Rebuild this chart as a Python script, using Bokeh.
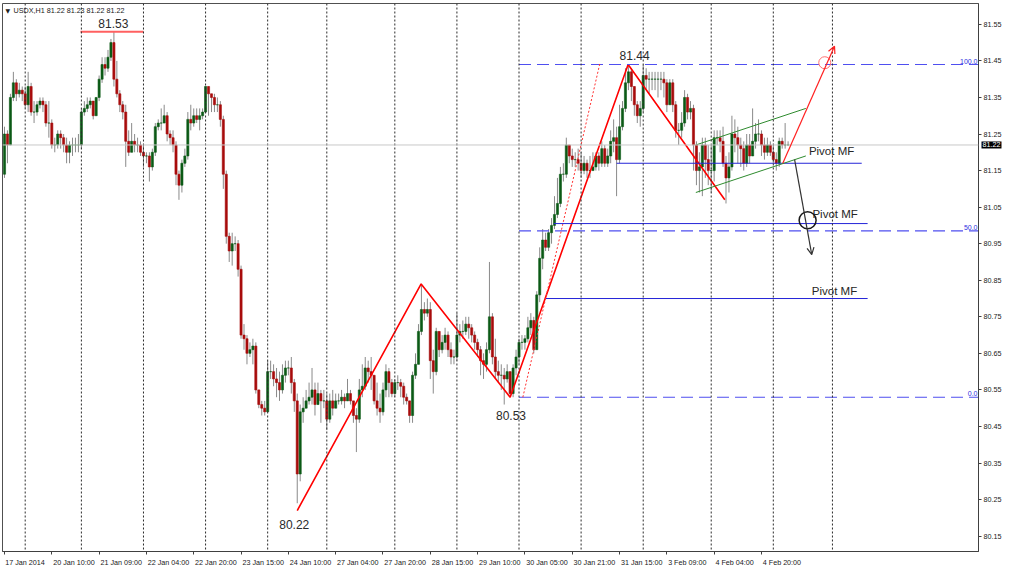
from bokeh.plotting import figure
from bokeh.models import (Range1d, LinearAxis, FixedTicker, Span, Label, Arrow,
                          OpenHead, PrintfTickFormatter)
from bokeh.core.properties import value
from bokeh.embed import file_html
from bokeh.resources import INLINE

# ---------------- data (USDX, H1) ----------------
first_open = 81.14
closes = [
    81.25, 81.22, 81.35, 81.39, 81.36, 81.37, 81.36, 81.33, 81.38, 81.31,
    81.31, 81.33, 81.34, 81.33, 81.28, 81.28, 81.22, 81.22, 81.25, 81.24,
    81.22, 81.20, 81.22, 81.22, 81.22, 81.22, 81.31, 81.32, 81.33, 81.34,
    81.30, 81.35, 81.40, 81.44, 81.43, 81.46, 81.50, 81.40, 81.36, 81.33,
    81.31, 81.23, 81.20, 81.23, 81.22, 81.22, 81.20, 81.19, 81.19, 81.16,
    81.20, 81.27, 81.28, 81.28, 81.30, 81.25, 81.24, 81.22, 81.14, 81.11,
    81.17, 81.19, 81.29, 81.28, 81.30, 81.29, 81.30, 81.31, 81.38, 81.36,
    81.35, 81.33, 81.33, 81.29, 81.14, 80.97, 80.93, 80.95, 80.95, 80.88,
    80.70, 80.69, 80.65, 80.66, 80.67, 80.55, 80.51, 80.50, 80.49, 80.60,
    80.60, 80.58, 80.57, 80.55, 80.59, 80.61, 80.61, 80.57, 80.52, 80.32,
    80.49, 80.50, 80.52, 80.53, 80.55, 80.51, 80.54, 80.52, 80.52, 80.47,
    80.52, 80.50, 80.52, 80.52, 80.53, 80.52, 80.54, 80.52, 80.48, 80.47,
    80.55, 80.56, 80.61, 80.60, 80.59, 80.52, 80.50, 80.49, 80.55, 80.60,
    80.57, 80.54, 80.57, 80.57, 80.56, 80.53, 80.52, 80.48, 80.59, 80.62,
    80.71, 80.77, 80.76, 80.77, 80.63, 80.60, 80.71, 80.66, 80.68, 80.70,
    80.66, 80.64, 80.64, 80.70, 80.71, 80.71, 80.73, 80.72, 80.70, 80.68,
    80.66, 80.63, 80.62, 80.66, 80.75, 80.64, 80.60, 80.59, 80.59, 80.58,
    80.60, 80.54, 80.61, 80.64, 80.68, 80.68, 80.69, 80.72, 80.74, 80.66,
    80.81, 80.91, 80.96, 80.94, 80.98, 81.00, 81.03, 81.06, 81.14, 81.14,
    81.22, 81.19, 81.18, 81.18, 81.17, 81.15, 81.17, 81.15, 81.15, 81.16,
    81.19, 81.17, 81.21, 81.17, 81.19, 81.23, 81.24, 81.18, 81.27, 81.32,
    81.39, 81.42, 81.38, 81.33, 81.30, 81.32, 81.41, 81.40, 81.40, 81.40,
    81.40, 81.40, 81.40, 81.39, 81.33, 81.39, 81.33, 81.26, 81.26, 81.28,
    81.35, 81.31, 81.32, 81.22, 81.15, 81.16, 81.22, 81.18, 81.15, 81.15,
    81.24, 81.24, 81.23, 81.17, 81.13, 81.16, 81.25, 81.24, 81.22, 81.21,
    81.17, 81.22, 81.19, 81.23, 81.25, 81.25, 81.22, 81.20, 81.22, 81.20,
    81.18, 81.17, 81.23, 81.22, 81.22, 81.22,
]
highs = [
    81.27, 81.26, 81.36, 81.42, 81.40, 81.39, 81.38, 81.38, 81.42, 81.39,
    81.34, 81.34, 81.35, 81.35, 81.34, 81.34, 81.29, 81.24, 81.26, 81.26,
    81.25, 81.24, 81.23, 81.24, 81.24, 81.25, 81.32, 81.34, 81.35, 81.35,
    81.34, 81.35, 81.41, 81.46, 81.46, 81.48, 81.51, 81.53, 81.45, 81.37,
    81.34, 81.33, 81.26, 81.28, 81.25, 81.24, 81.23, 81.22, 81.20, 81.20,
    81.21, 81.28, 81.29, 81.32, 81.33, 81.31, 81.26, 81.26, 81.23, 81.15,
    81.18, 81.21, 81.31, 81.33, 81.32, 81.32, 81.32, 81.32, 81.38, 81.37,
    81.36, 81.36, 81.35, 81.34, 81.30, 81.15, 80.98, 80.98, 80.97, 80.96,
    80.89, 80.73, 80.70, 80.68, 80.69, 80.68, 80.55, 80.52, 80.52, 80.63,
    80.63, 80.62, 80.61, 80.60, 80.62, 80.63, 80.63, 80.64, 80.58, 80.54,
    80.51, 80.53, 80.55, 80.57, 80.61, 80.57, 80.57, 80.55, 80.55, 80.54,
    80.54, 80.55, 80.54, 80.54, 80.55, 80.54, 80.58, 80.55, 80.52, 80.50,
    80.58, 80.62, 80.64, 80.63, 80.64, 80.59, 80.57, 80.54, 80.57, 80.62,
    80.61, 80.58, 80.58, 80.59, 80.58, 80.57, 80.54, 80.52, 80.60, 80.65,
    80.73, 80.84, 80.79, 80.80, 80.79, 80.66, 80.72, 80.70, 80.70, 80.72,
    80.71, 80.68, 80.66, 80.76, 80.73, 80.74, 80.75, 80.75, 80.73, 80.71,
    80.69, 80.67, 80.65, 80.68, 80.90, 80.76, 80.69, 80.63, 80.62, 80.61,
    80.62, 80.60, 80.62, 80.66, 80.69, 80.70, 80.70, 80.75, 80.76, 80.75,
    80.82, 80.94, 80.99, 80.98, 80.99, 81.02, 81.08, 81.13, 81.16, 81.17,
    81.24, 81.22, 81.21, 81.20, 81.21, 81.20, 81.19, 81.18, 81.19, 81.20,
    81.20, 81.20, 81.23, 81.22, 81.21, 81.26, 81.29, 81.27, 81.33, 81.34,
    81.43, 81.44, 81.43, 81.37, 81.34, 81.34, 81.44, 81.43, 81.42, 81.42,
    81.42, 81.42, 81.42, 81.42, 81.40, 81.40, 81.40, 81.34, 81.28, 81.31,
    81.37, 81.36, 81.34, 81.33, 81.23, 81.20, 81.24, 81.24, 81.22, 81.22,
    81.26, 81.26, 81.26, 81.27, 81.19, 81.20, 81.30, 81.29, 81.27, 81.24,
    81.23, 81.25, 81.25, 81.32, 81.28, 81.29, 81.26, 81.24, 81.24, 81.23,
    81.22, 81.20, 81.24, 81.24, 81.28, 81.23,
]
lows = [
    81.13, 81.17, 81.22, 81.34, 81.34, 81.35, 81.34, 81.32, 81.31, 81.30,
    81.28, 81.30, 81.32, 81.31, 81.27, 81.24, 81.21, 81.20, 81.21, 81.21,
    81.20, 81.17, 81.17, 81.19, 81.20, 81.20, 81.21, 81.30, 81.31, 81.32,
    81.29, 81.30, 81.34, 81.39, 81.41, 81.42, 81.45, 81.38, 81.35, 81.31,
    81.29, 81.16, 81.19, 81.20, 81.20, 81.20, 81.19, 81.16, 81.17, 81.12,
    81.15, 81.19, 81.26, 81.26, 81.28, 81.23, 81.22, 81.20, 81.11, 81.07,
    81.09, 81.16, 81.18, 81.26, 81.27, 81.28, 81.26, 81.29, 81.31, 81.30,
    81.31, 81.31, 81.31, 81.27, 81.10, 80.95, 80.90, 80.89, 80.93, 80.86,
    80.69, 80.66, 80.62, 80.64, 80.62, 80.54, 80.50, 80.48, 80.48, 80.53,
    80.58, 80.56, 80.53, 80.52, 80.54, 80.57, 80.59, 80.54, 80.49, 80.24,
    80.30, 80.46, 80.50, 80.51, 80.51, 80.48, 80.51, 80.46, 80.50, 80.44,
    80.46, 80.48, 80.50, 80.51, 80.51, 80.50, 80.52, 80.51, 80.46, 80.38,
    80.46, 80.53, 80.55, 80.57, 80.55, 80.51, 80.48, 80.46, 80.48, 80.53,
    80.53, 80.53, 80.53, 80.55, 80.53, 80.51, 80.51, 80.46, 80.46, 80.58,
    80.62, 80.70, 80.74, 80.75, 80.58, 80.54, 80.59, 80.64, 80.65, 80.66,
    80.64, 80.62, 80.62, 80.63, 80.68, 80.69, 80.70, 80.69, 80.68, 80.66,
    80.64, 80.59, 80.58, 80.60, 80.65, 80.62, 80.58, 80.57, 80.55, 80.51,
    80.57, 80.53, 80.53, 80.59, 80.62, 80.66, 80.66, 80.68, 80.70, 80.65,
    80.66, 80.79, 80.88, 80.93, 80.93, 80.95, 80.99, 81.02, 81.05, 81.12,
    81.13, 81.17, 81.16, 81.16, 81.15, 81.13, 81.14, 81.13, 81.13, 81.15,
    81.15, 81.15, 81.16, 81.16, 81.16, 81.17, 81.20, 81.08, 81.17, 81.26,
    81.31, 81.37, 81.34, 81.30, 81.28, 81.27, 81.31, 81.37, 81.36, 81.37,
    81.37, 81.35, 81.37, 81.35, 81.31, 81.33, 81.31, 81.24, 81.22, 81.24,
    81.27, 81.29, 81.29, 81.15, 81.11, 81.09, 81.08, 81.13, 81.11, 81.09,
    81.12, 81.22, 81.20, 81.16, 81.06, 81.09, 81.15, 81.20, 81.17, 81.16,
    81.15, 81.16, 81.17, 81.20, 81.21, 81.23, 81.19, 81.18, 81.19, 81.19,
    81.17, 81.15, 81.16, 81.21, 81.21, 81.22,
]
title_text = "USDX,H1  81.22 81.23 81.22 81.22"
time_labels = ["17 Jan 2014", "20 Jan 10:00", "21 Jan 09:00", "22 Jan 04:00",
               "22 Jan 20:00", "23 Jan 15:00", "24 Jan 10:00", "27 Jan 04:00",
               "27 Jan 20:00", "28 Jan 15:00", "29 Jan 10:00", "30 Jan 05:00",
               "30 Jan 21:00", "31 Jan 15:00", "3 Feb 09:00", "4 Feb 04:00",
               "4 Feb 20:00"]
bars_per_label = 16
day_start_bars = [7, 26, 47, 68, 89, 109, 132, 153, 174, 195, 216, 239, 260, 280]
price_ticks = [80.15, 80.25, 80.35, 80.45, 80.55, 80.65, 80.75, 80.85,
               80.95, 81.05, 81.15, 81.25, 81.35, 81.45, 81.55]

# drawn objects (bar index, price)
high_mark = {"x0": 25.7, "x1": 47.0, "label_bar": 36.8, "price": 81.53}
zigzag_bars = [99.0, 140.9, 171.0, 210.9, 243.6]
zigzag_prices = [80.22, 80.84, 80.53, 81.44, 81.07]
fib_start_bar = 174.0
fib_low, fib_high = 80.53, 81.44
fib_levels = [0.0, 50.0, 100.0]
fib_ray_bars = [175.3, 201.4]
pivot_levels = [81.17, 81.005, 80.80]
pivot_start = [207.0, 185.8, 183.1]
pivot_end = [289.9, 291.9, 291.9]
pivot_label_bar = [279.7, 280.9, 280.7]
pivot_label_lift = [6, 4, 2]
channel_bars = [233.8, 271.0]
channel_upper = [81.22, 81.32]
channel_lower = [81.09, 81.19]
up_arrow = (263.2, 81.17, 280.7, 81.49)
down_arrow = (267.2, 81.18, 273.0, 80.92)
red_circle = (277.4, 81.445)
black_circle = (271.6, 81.014)

# ---------------- derived ----------------
n = len(closes)
opens = [first_open] + closes[:-1]
idx = list(range(n))
hi = [max(h, o, c) for h, o, c in zip(highs, opens, closes)]
lo = [min(l, o, c) for l, o, c in zip(lows, opens, closes)]
top = [max(o, c) for o, c in zip(opens, closes)]
bot = [min(o, c) for o, c in zip(opens, closes)]
body_col = ["#0b5a16" if c >= o else "#a80c0c" for o, c in zip(opens, closes)]

PPB = 2.96                      # pixels per bar
FRAME_W = 977.0
X0 = -0.676
X1 = X0 + FRAME_W / PPB
Y0, Y1 = 80.108, 81.607
FONT = "Liberation Sans"

p = figure(width=1024, height=569, x_range=Range1d(X0, X1), y_range=Range1d(Y0, Y1),
           output_backend="svg", toolbar_location=None,
           x_axis_location=None, y_axis_location=None,
           min_border_left=2, min_border_right=0, min_border_top=3, min_border_bottom=0)
p.grid.visible = False
p.background_fill_color = "white"
p.border_fill_color = "white"
p.outline_line_color = "#505050"

# day separators
for b in day_start_bars:
    p.add_layout(Span(location=b, dimension="height", line_color="#2a2a2a",
                      line_dash="2 2", line_width=1))
# bid line
p.add_layout(Span(location=closes[-1], dimension="width", line_color="#c8c8c8", line_width=1))

# candles
p.segment(x0=idx, y0=hi, x1=idx, y1=lo, line_color="#8a8a8a", line_width=1)
p.vbar(x=idx, width=0.72, top=top, bottom=bot, fill_color=body_col,
       line_color=body_col, line_width=0.6)

# 81.53 high marker
p.segment(x0=[high_mark["x0"]], y0=[high_mark["price"]], x1=[high_mark["x1"]],
          y1=[high_mark["price"]], line_color="#ff6060", line_width=2)

# zigzag
p.line(zigzag_bars, zigzag_prices, line_color="#ff0000", line_width=1.6)

# fibonacci
fib_vals = [fib_low + (fib_high - fib_low) * lv / 100.0 for lv in fib_levels]
p.segment(x0=[fib_start_bar] * 3, y0=fib_vals, x1=[X1] * 3, y1=fib_vals,
          line_color="#4f4ff0", line_width=1.1, line_dash="12 6")
p.text(x=[X1] * 3, y=fib_vals, text=["%.1f" % lv for lv in fib_levels],
       text_align="right", text_baseline="bottom", text_font=value(FONT),
       text_font_size="7px", text_color="#3030e0", x_offset=-1, y_offset=-1)
p.line(fib_ray_bars, [fib_low, fib_high + 0.005], line_color="#ff3030",
       line_width=1, line_dash="2 2")

# pivot lines
p.segment(x0=pivot_start, y0=pivot_levels, x1=pivot_end, y1=pivot_levels,
          line_color="#2424d8", line_width=1)
for xb, lv, lift in zip(pivot_label_bar, pivot_levels, pivot_label_lift):
    p.text(x=[xb], y=[lv], text=["Pivot MF"], text_align="center",
           text_baseline="bottom", text_font=value(FONT), text_font_size="11.5px",
           text_color="#262626", y_offset=-lift)

# channel
p.line(channel_bars, channel_upper, line_color="#2e8b2e", line_width=1)
p.line(channel_bars, channel_lower, line_color="#2e8b2e", line_width=1)

# arrows and circles
p.add_layout(Arrow(end=OpenHead(size=7, line_color="#ff2020", line_width=1.2),
                   x_start=up_arrow[0], y_start=up_arrow[1], x_end=up_arrow[2],
                   y_end=up_arrow[3], line_color="#ff2020", line_width=1.2))
p.add_layout(Arrow(end=OpenHead(size=7, line_color="#333333", line_width=1.2),
                   x_start=down_arrow[0], y_start=down_arrow[1], x_end=down_arrow[2],
                   y_end=down_arrow[3], line_color="#333333", line_width=1.2))
p.scatter([red_circle[0]], [red_circle[1]], marker="circle", size=12,
          fill_color=None, line_color="#ff7070", line_width=1)
p.scatter([black_circle[0]], [black_circle[1]], marker="circle", size=17,
          fill_color=None, line_color="#1a1a1a", line_width=1.5)

# price labels
p.text(x=[high_mark["label_bar"]], y=[high_mark["price"]], text=["%.2f" % high_mark["price"]],
       text_align="center", text_baseline="bottom", text_font=value(FONT),
       text_font_size="12px", text_color="#2a2a2a", y_offset=-4)
p.text(x=[zigzag_bars[3] + 2.2], y=[zigzag_prices[3]], text=["%.2f" % zigzag_prices[3]],
       text_align="center", text_baseline="bottom", text_font=value(FONT),
       text_font_size="12px", text_color="#2a2a2a", y_offset=-5)
p.text(x=[zigzag_bars[2] + 0.3], y=[zigzag_prices[2]], text=["%.2f" % zigzag_prices[2]],
       text_align="center", text_baseline="top", text_font=value(FONT),
       text_font_size="12px", text_color="#2a2a2a", y_offset=14)
p.text(x=[zigzag_bars[0] - 1.0], y=[zigzag_prices[0]], text=["%.2f" % zigzag_prices[0]],
       text_align="center", text_baseline="top", text_font=value(FONT),
       text_font_size="12px", text_color="#2a2a2a", y_offset=9)

# chart header
p.text(x=[X0], y=[Y1], text=["\u25bc"], text_baseline="top", text_font=value("DejaVu Sans"),
       text_font_size="6px", text_color="#202020", x_offset=3, y_offset=3)
p.text(x=[X0], y=[Y1], text=[title_text], text_baseline="top", text_font=value(FONT),
       text_font_size="7.2px", text_color="#202020", x_offset=11, y_offset=2)

# right price axis
yax = LinearAxis(ticker=FixedTicker(ticks=price_ticks),
                 formatter=PrintfTickFormatter(format="%.2f"),
                 major_tick_out=3, major_tick_in=0, minor_tick_out=0, minor_tick_in=0,
                 axis_line_color="#404040", major_tick_line_color="#404040",
                 major_label_text_font=FONT, major_label_text_font_size="7.2px",
                 major_label_text_color="#202020", major_label_standoff=2,
                 axis_label_standoff=0)
p.add_layout(yax, "right")

# current price tag: own side panel after the axis, drawn back over the axis
p.add_layout(Label(x=-23, y=closes[-1], x_units="screen", y_units="data",
                   text="%.2f" % closes[-1],
                   text_baseline="middle", text_font=FONT, text_font_size="7.2px",
                   text_color="white", background_fill_color="black", padding=1), "right")

# bottom time axis: tick marks (minor) at label bars, labels left-aligned after them
tick_bars = [k * bars_per_label for k in range(len(time_labels))]
centers = [round(t + (2.0 + 1.68 * len(s)) / PPB, 3) for t, s in zip(tick_bars, time_labels)]
lax = LinearAxis(ticker=FixedTicker(ticks=centers, minor_ticks=tick_bars),
                 major_label_overrides={c: s for c, s in zip(centers, time_labels)},
                 axis_line_color="#404040", major_tick_line_color=None,
                 minor_tick_line_color="#404040",
                 major_tick_out=0, major_tick_in=0, minor_tick_out=3, minor_tick_in=0,
                 major_label_text_font=FONT, major_label_text_font_size="7.2px",
                 major_label_text_color="#202020", major_label_standoff=3,
                 axis_label_standoff=0)
p.add_layout(lax, "below")

open("out.html", "w").write(file_html(p, INLINE))
